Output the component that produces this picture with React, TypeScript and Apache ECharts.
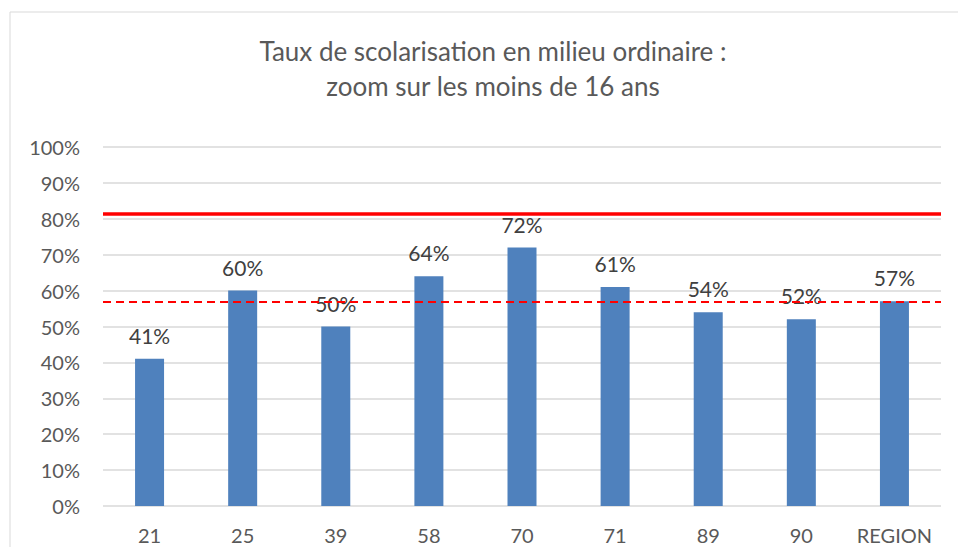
import React, { useEffect, useRef } from "react";
import * as echarts from "echarts";

const titleLines = ["Taux de scolarisation en milieu ordinaire :", "zoom sur les moins de 16 ans"];
const categories = ["21", "25", "39", "58", "70", "71", "89", "90", "REGION"];
const values = [41, 60, 50, 64, 72, 61, 54, 52, 57];
const targetLine = 81.3;
const regionLine = 56.8;
const yTicks = { min: 0, max: 100, interval: 10 };

const FONT = "Lato, 'Open Sans', sans-serif";

export default function App() {
  const ref = useRef<HTMLDivElement>(null);
  useEffect(() => {
    if (!ref.current) return;
    const chart = echarts.init(ref.current, undefined, { renderer: "svg" });
    chart.setOption({
      animation: false,
      backgroundColor: "#ffffff",
      textStyle: { fontFamily: FONT },
      title: {
        text: titleLines.join("\n"),
        left: 488,
        textAlign: "center",
        top: 28,
        textStyle: {
          fontFamily: FONT,
          fontSize: 26,
          fontWeight: "normal",
          color: "#595959",
          lineHeight: 35,
        },
      },
      graphic: [
        {
          type: "rect",
          shape: { x: 10, y: 12, width: 960, height: 560 },
          style: { fill: "none", stroke: "#d9d9d9", lineWidth: 1 },
          silent: true,
          z: -1,
        },
      ],
      grid: { left: 103, right: 17, top: 147, bottom: 41, containLabel: false },
      xAxis: {
        type: "category",
        data: categories,
        axisLine: { show: false },
        axisTick: { show: false },
        axisLabel: { color: "#595959", fontSize: 20, margin: 19, interval: 0, fontFamily: FONT },
      },
      yAxis: {
        type: "value",
        min: yTicks.min,
        max: yTicks.max,
        interval: yTicks.interval,
        axisLine: { show: false },
        axisTick: { show: false },
        axisLabel: { color: "#595959", fontSize: 20, margin: 23, formatter: "{value}%", fontFamily: FONT },
        splitLine: { lineStyle: { color: "#d9d9d9", width: 1.5 } },
      },
      series: [
        {
          type: "bar",
          data: values,
          barWidth: 29,
          itemStyle: { color: "#4f81bd" },
          label: {
            show: true,
            position: "top",
            distance: 13,
            formatter: "{c}%",
            color: "#404040",
            fontSize: 21,
            fontFamily: FONT,
          },
          markLine: {
            silent: true,
            symbol: "none",
            label: { show: false },
            data: [
              { yAxis: targetLine, lineStyle: { color: "#ff0000", width: 3.5, type: "solid" } },
              { yAxis: regionLine, lineStyle: { color: "#ff0000", width: 2, type: [8, 5] } },
            ],
          },
        },
      ],
    });
    return () => chart.dispose();
  }, []);
  return (
    <div
      ref={ref}
      style={{ position: "absolute", left: 0, top: 0, width: 958, height: 547 }}
    />
  );
}
